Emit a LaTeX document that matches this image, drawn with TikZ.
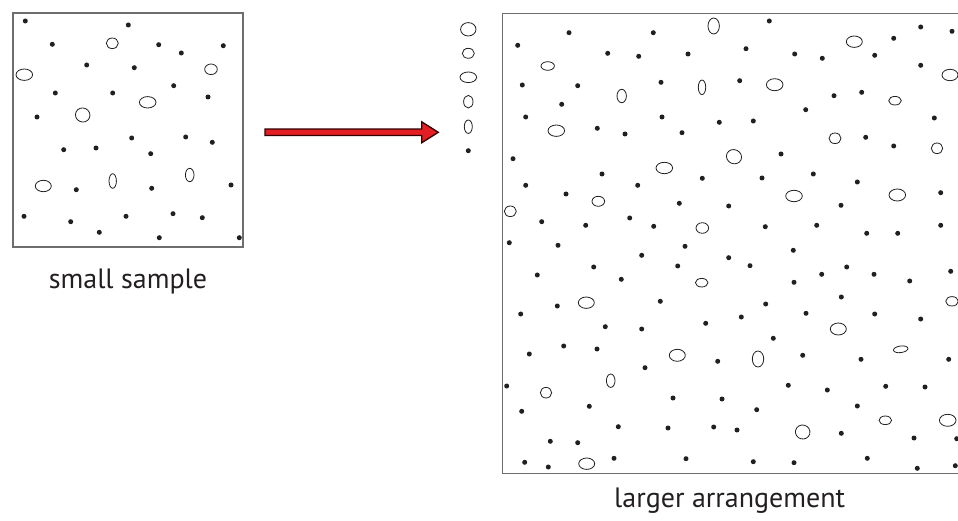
\documentclass[tikz,border=0pt]{standalone}
\usepackage{fontspec}
\setmainfont{PT Sans}
\usepackage{xcolor}
\usepackage{tikz}
\usetikzlibrary{calc,positioning}
\definecolor{arrowred}{RGB}{227,30,36}
\definecolor{framegray}{RGB}{110,110,110}
\definecolor{inkblack}{RGB}{35,31,32}
\newcommand{\labelsize}{\fontsize{28}{32}\selectfont}

\begin{document}
\begin{tikzpicture}[x=1pt, y=-1pt,
  frame/.style={draw=framegray, line width=1.2pt, inner sep=0pt},
  grain/.style={fill=inkblack},
  hole/.style={draw=inkblack, line width=0.8pt},
  caption/.style={inner sep=0pt, font=\labelsize, text=inkblack},
  arrowbody/.style={fill=arrowred, draw=black!80!red, line width=1.3pt, line join=miter}]
\useasboundingbox (0,0) rectangle (958,521);
\clip (0,0) rectangle (958,521);

\node[frame, minimum width=230pt, minimum height=234pt] (smallbox) at (128,130) {};
\node[frame, minimum width=460pt, minimum height=460pt] (bigbox) at (732.3,243.3) {};
\node[caption, below=41.4pt of smallbox, anchor=base] (smalllabel) {small sample};
\node[caption, below=33.1pt of bigbox, anchor=base, xshift=-2.6pt] (biglabel) {larger arrangement};

% small sample
\foreach \x/\y in {25.3/21,128.3/25,52.3/44.3,158.7/44.7,181.3/53,223.3/45.7,86.7/65,
  134.3/67.7,173.7/85.7,55.3/93,112.7/93,208/97,37/117,131.7/138,185.7/137,212.3/142.3,
  63.7/149.7,96/148,150.7/153.7,76.3/189.7,151.7/188.3,231/185,24/216.3,70.7/221.7,
  126/216.3,173/213.7,202.3/217.7,99.3/232.3,159.3/237.7,239.3/237.7}
  \fill[grain] (\x,\y) circle (2.5pt);
\foreach \x/\y/\a/\b/\r in {112.3/43.3/6/5.3/0,24.3/74.7/8.3/5.7/0,211/69.3/6.3/5.3/0,
  147.7/102.3/8.3/5.7/0,82.7/115/7.3/7/-25,43.3/186/8/5.7/0,112.7/181/3.7/7.3/0,
  189.7/175/4.3/6.7/0}
  \draw[hole, rotate around={\r:(\x,\y)}] (\x,\y) ellipse [x radius=\a pt, y radius=\b pt];

% legend of grains
\foreach \y/\a/\b in {29.3/7.7/6.7,53.3/6/5,77.3/8.3/5.3,101.7/4.7/6.3,126.7/4/6.7}
  \draw[hole] (468.3,\y) ellipse [x radius=\a pt, y radius=\b pt];
\fill[grain] (468.3,150.7) circle (2.5pt);

% arrow
\coordinate (arrowstart) at (265,132.3);
\coordinate (arrowtip) at (438.3,132.3);
\filldraw[arrowbody] ($(arrowstart)+(0,-3.2)$) -- ($(arrowtip)+(-16.6,-3.2)$)
  -- ($(arrowtip)+(-16.6,-10.5)$) -- (arrowtip) -- ($(arrowtip)+(-16.6,10.5)$)
  -- ($(arrowtip)+(-16.6,3.2)$) -- ($(arrowstart)+(0,3.2)$) -- cycle;

% larger arrangement
\foreach \x/\y in {569/32.7,653.3/32.7,517.7/45.3,607.7/53.3,638.7/56.3,688/54,522.3/85,
  577.7/85.7,661/82.3,561.7/104.3,525.7/117,662/117,719.3/122.3,597.3/128.3,625/134,
  682/132.7,513/158.7,602/174,525.7/185.3,637.7/185.3,702.3/178.3,566/194,679.3/203.3,
  728.7/206,541.7/221.7,585.7/225.3,629.7/218,653.7/226.3,
  769.3/21,920.7/27,952/31.3,893.7/38.3,746/48.7,794.7/54,822.3/58.3,874.7/55.3,
  920.7/65.3,739.7/80.7,834/95.7,861.7/92.3,805.7/109.7,753.3/121,934.3/118,865.7/137.3,
  893.7/146,781/154,762/178,813.3/174,857.3/182,940.7/192.7,841/205.3,765.3/226.7,
  816.7/225.3,866.7/233.3,897.7/233.3,940.7/225.3,
  509.3/242.7,558/245.3,641.7/255.3,685/246.3,728.7/257.7,537.3/275,593.7/267,621.3/279.3,
  677.7/266,557.3/306,520.7/314,660.3/301.3,605.3/326.7,641.7/329,705.7/323.3,529.3/354,
  563.7/346,597/349,717.7/361.3,645/367.7,506.7/386,521.7/411.3,589.3/406.3,673/398,
  722/399,618.3/426.7,668/428,713.7/427,550.3/441.3,577.7/442.7,524.7/462.3,548.3/467,
  614/458.3,686/458.7,
  793.3/250.3,750/265.7,846.7/267,821.7/274.3,874/274.3,794/282.3,909.7/281,950.7/271.3,
  841.3/297,765.7/304,806/313.3,874.7/314,920.7/319,741.3/317,773.3/338.3,802.7/355.3,
  861/359.3,948.7/359.3,788.3/385.3,827.3/390,885.7/386.3,925/387,756.7/409.7,857.3/406,
  737/430,841.3/433.3,914/438,956.7/438.7,753.3/461.7,794/462.7,867.3/458.3,917.3/468.3,
  955.3/465.7}
  \fill[grain] (\x,\y) circle (2.5pt);
\foreach \x/\y/\a/\b/\r in {713.7/26/5.7/8/0,547.7/66/6.7/4.3/0,621.7/96/4.7/6.7/0,
  702/87.3/3.7/7.3/0,556.3/130.7/8.3/5.7/0,664.3/168/8.3/5.7/0,598.3/201.3/6.3/5/0,
  510.3/211.3/6/5.3/0,702.3/228/6.3/5.3/0,734/156.7/7.7/7/-25,854.3/41.7/8/5.7/0,
  774.7/84.7/8.3/6/0,950/75/8/5.7/0,895/100.7/6.3/4.3/0,835/138.3/6/5.3/0,
  937/148.3/5.7/5.3/0,794/196/8.3/5.7/0,897.3/195/8.3/6/0,
  701.7/282.7/6.3/4.3/0,586.3/302.7/8/5.7/0,677.3/355.3/8/6/0,610.7/380.7/4.3/6.7/0,
  546/392.7/5.7/5.3/0,586.7/463.7/8/5.7/0,
  952/301.3/6.3/4.7/0,838.3/329/8/6/0,758/359/5.7/8/0,900.7/349.3/7.3/3.3/8,
  885.3/420.3/6.3/4.3/0,947.7/420.3/8.3/6/0,802.7/432/7.3/7/-15}
  \draw[hole, rotate around={\r:(\x,\y)}] (\x,\y) ellipse [x radius=\a pt, y radius=\b pt];
\end{tikzpicture}
\end{document}
